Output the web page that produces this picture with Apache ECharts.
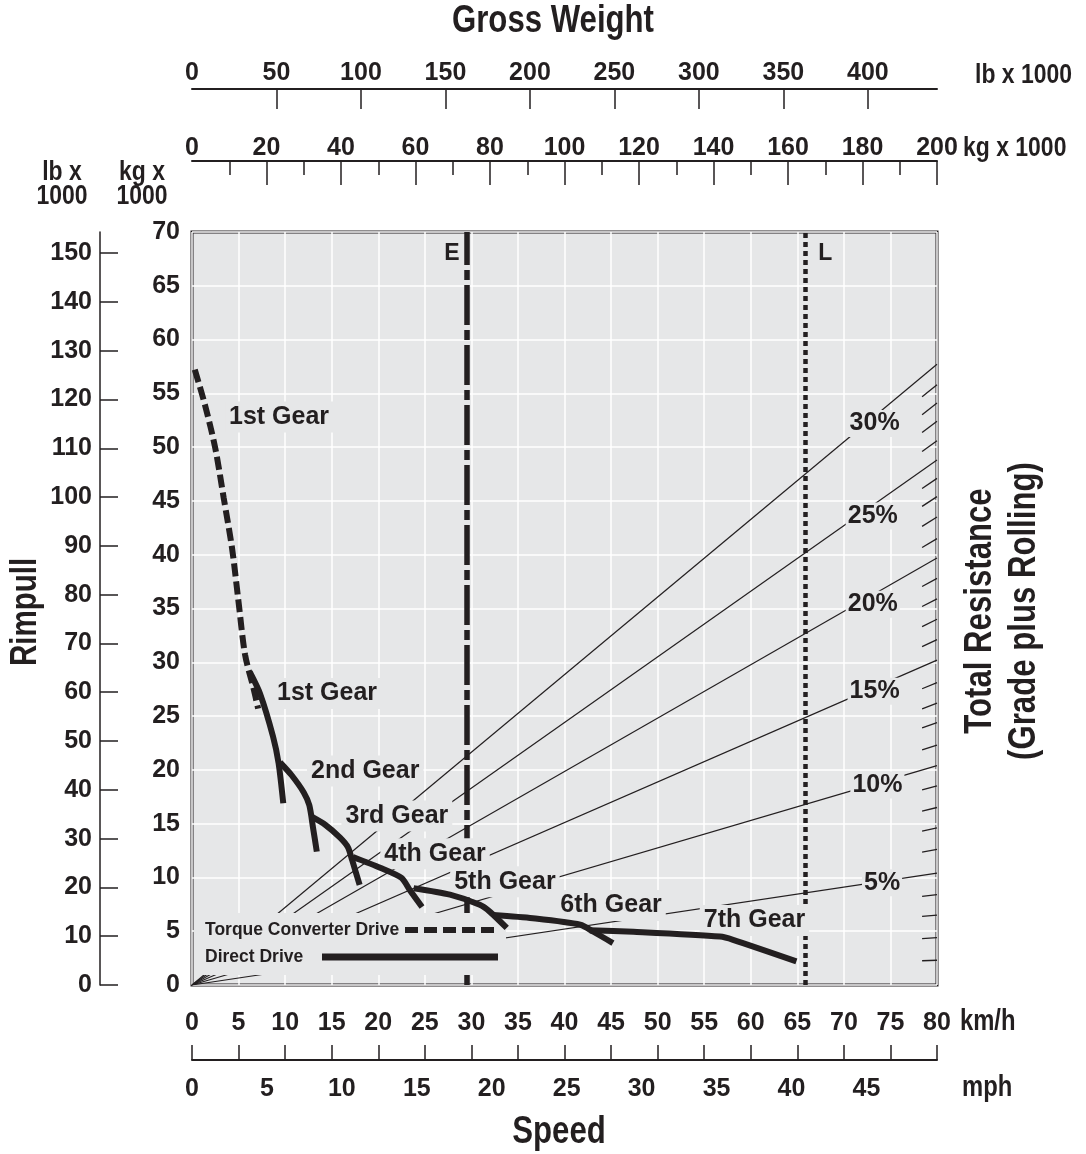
<!DOCTYPE html>
<html>
<head>
<meta charset="utf-8">
<script src="https://cdn.jsdelivr.net/npm/echarts@6/dist/echarts.min.js"></script>
<style>
html,body{margin:0;padding:0;background:#ffffff;}
#chart{width:1086px;height:1154px;}
</style>
</head>
<body>
<div id="chart"></div>
<script>
// ---------- data ----------
const kmhTicks = [0,5,10,15,20,25,30,35,40,45,50,55,60,65,70,75,80];
const mphTicks = [0,5,10,15,20,25,30,35,40,45];
const lbWeightTicks = [0,50,100,150,200,250,300,350,400];
const lbWeightTickMarks = [50,100,150,200,250,300,350,400];
const kgWeightTicks = [0,20,40,60,80,100,120,140,160,180,200];
const kgWeightTickMarks = [20,40,60,80,100,120,140,160,180,200];
const kgWeightMinorTicks = [10,30,50,70,90,110,130,150,170,190];
const rimpullKgTicks = [0,5,10,15,20,25,30,35,40,45,50,55,60,65,70];
const rimpullLbTicks = [0,10,20,30,40,50,60,70,80,90,100,110,120,130,140,150];

// total resistance lines: rimpull (kg x 1000) reached at 200 000 kg gross weight
const gradeLabels = ['5%','10%','15%','20%','25%','30%'];
const gradeRimpullAtMaxWeight = [10.4,20.4,30.2,39.7,48.8,57.7];
// intermediate 1% steps (short marks at right edge)
const minorGradeRimpullAtMaxWeight = [2.3,4.4,6.5,8.4, 12.6,14.6,16.5,18.5, 22.3,24.4,26.2,28.1,
  32.1,34.0,35.9,37.8, 41.5,43.5,45.4,47.1, 50.6,52.4,54.1,55.8];

// rimpull curves [km/h, kg x 1000]
const gear1Converter = [[0.3,57.2],[1.4,53.9],[2.5,49.9],[3.4,45.3],[4.3,40.6],[5.0,35.6],[5.7,30.7],[6.6,27.6],[7.1,25.7]];
const gear1 = [[6.2,29.1],[7.3,27.1],[8.7,23.1],[9.3,20.6],[9.8,16.9]];
const gear2 = [[9.45,20.7],[10.7,19.5],[12.0,17.9],[12.6,16.7],[13.0,14.6],[13.4,12.4]];
const gear3 = [[12.85,15.65],[14.3,14.9],[15.9,13.7],[16.75,12.8],[17.2,11.6],[18.0,9.3]];
const gear4 = [[17.3,11.9],[20.2,10.9],[22.5,9.95],[23.4,8.8],[24.7,7.25]];
const gear5 = [[23.8,9.0],[27.7,8.4],[30.9,7.45],[32.0,6.8],[33.8,5.3]];
const gear6 = [[32.35,6.5],[36.6,6.2],[41.7,5.6],[43.1,4.95],[45.2,3.9]];
const gear7 = [[42.7,5.1],[47.4,4.95],[56.7,4.5],[58.1,4.2],[64.9,2.2]];

const gearLabelNames = ['1st Gear','1st Gear','2nd Gear','3rd Gear','4th Gear','5th Gear','6th Gear','7th Gear'];
const gearLabelKmh = [9.35,14.5,18.6,22.0,26.1,33.6,45.0,60.4];
const gearLabelRimpull = [52.8,27.1,19.9,15.7,12.2,9.6,7.4,6.0];

const gradeLabelKmh = [74.1,73.6,73.3,73.1,73.1,73.3];
const gradeLabelRimpull = [9.5,18.6,27.3,35.4,43.6,52.2];

const speedLimitE = 29.5;
const speedLimitL = 65.9;
const speedLimitNames = ['E','L'];
const speedLimitLabelKmh = [27.9,68.0];
const speedLimitLabelRimpull = [68.0,68.0];

// unit conversions
const MAX_WEIGHT_KG = 200;
const LB_PER_KG = 2.20462;
const KMH_PER_MPH = 1.609344;
const MAX_RIMPULL_KG = 70;

// ---------- style ----------
const INK = '#231f20';
const PLOT_BG = '#e6e7e8';
const SANS = '"Liberation Sans",Arial,Helvetica,sans-serif';
const NARROW_SCALE = 0.82;

const chart = echarts.init(document.getElementById('chart'), null, {renderer:'canvas'});

function hiddenY(gi){ return {type:'value', gridIndex:gi, show:false, min:0, max:1}; }
const plain = {outerBoundsMode:'none', containLabel:false};
const tickFont = {color:INK, fontFamily:SANS, fontWeight:'bold', fontSize:25};

const option = {
  animation:false,
  backgroundColor:'#ffffff',
  grid:[
    Object.assign({left:192, top:232, width:745, height:753, show:true, backgroundColor:PLOT_BG, borderColor:INK, borderWidth:3}, plain), //0 main
    Object.assign({left:192, top:88, width:745, height:1}, plain),   //1 lb weight
    Object.assign({left:192, top:160, width:745, height:1}, plain),  //2 kg weight
    Object.assign({left:192, top:160, width:745, height:1}, plain),  //3 kg minor
    Object.assign({left:192, top:1059, width:745, height:1}, plain), //4 km/h ticks
    Object.assign({left:192, top:1059, width:745, height:1}, plain), //5 mph labels
    Object.assign({left:100, top:232, width:1, height:753}, plain)   //6 lb rimpull
  ],
  xAxis:[
    {type:'value', gridIndex:0, min:0, max:80, interval:5, axisLine:{show:false}, axisTick:{show:false},
     axisLabel:Object.assign({margin:26}, tickFont),
     splitLine:{show:true, lineStyle:{color:'#ffffff', width:1.5}}},
    {type:'value', gridIndex:0, min:0, max:MAX_WEIGHT_KG, show:false},
    {type:'value', gridIndex:1, position:'top', min:0, max:MAX_WEIGHT_KG*LB_PER_KG,
     axisLine:{show:true, lineStyle:{color:INK, width:2}},
     axisTick:{show:true, inside:true, length:20, customValues:lbWeightTickMarks, lineStyle:{color:INK, width:1.5}},
     axisLabel:Object.assign({show:true, customValues:lbWeightTicks, margin:2}, tickFont),
     splitLine:{show:false}},
    {type:'value', gridIndex:2, position:'top', min:0, max:MAX_WEIGHT_KG,
     axisLine:{show:true, lineStyle:{color:INK, width:2}},
     axisTick:{show:true, inside:true, length:24, customValues:kgWeightTickMarks, lineStyle:{color:INK, width:1.5}},
     axisLabel:Object.assign({show:true, customValues:kgWeightTicks, margin:-1}, tickFont),
     splitLine:{show:false}},
    {type:'value', gridIndex:3, position:'top', min:0, max:MAX_WEIGHT_KG,
     axisLine:{show:false},
     axisTick:{show:true, inside:true, length:14, customValues:kgWeightMinorTicks, lineStyle:{color:INK, width:1.5}},
     axisLabel:{show:false}, splitLine:{show:false}},
    {type:'value', gridIndex:4, position:'bottom', min:0, max:80,
     axisLine:{show:true, lineStyle:{color:INK, width:2}},
     axisTick:{show:true, inside:true, length:15, customValues:kmhTicks, lineStyle:{color:INK, width:1.5}},
     axisLabel:{show:false}, splitLine:{show:false}},
    {type:'value', gridIndex:5, position:'bottom', min:0, max:80/KMH_PER_MPH,
     axisLine:{show:false}, axisTick:{show:false},
     axisLabel:Object.assign({show:true, customValues:mphTicks, margin:17}, tickFont),
     splitLine:{show:false}},
    {type:'value', gridIndex:6, min:0, max:1, show:false}
  ],
  yAxis:[
    {type:'value', gridIndex:0, min:0, max:MAX_RIMPULL_KG, interval:5, axisLine:{show:false}, axisTick:{show:false},
     axisLabel:Object.assign({margin:12, padding:[0,0,8,0]}, tickFont),
     splitLine:{show:true, lineStyle:{color:'#ffffff', width:1.5}}},
    hiddenY(1), hiddenY(2), hiddenY(3), hiddenY(4), hiddenY(5),
    {type:'value', gridIndex:6, position:'left', min:0, max:MAX_RIMPULL_KG*LB_PER_KG,
     axisLine:{show:true, lineStyle:{color:INK, width:1.5}},
     axisTick:{show:true, inside:true, length:18, customValues:rimpullLbTicks, lineStyle:{color:INK, width:1.5}},
     axisLabel:Object.assign({show:true, customValues:rimpullLbTicks, margin:8, padding:[0,0,8,0]}, tickFont),
     splitLine:{show:false}}
  ],
  series:[],
  graphic:[]
};

// resistance lines
gradeRimpullAtMaxWeight.forEach(function(v, i){
  option.series.push({type:'line', name:gradeLabels[i], xAxisIndex:1, yAxisIndex:0, data:[[0,0],[MAX_WEIGHT_KG,v]],
    symbol:'none', silent:true, z:2, lineStyle:{color:INK, width:1.2}});
});
// 1% marks at right edge
const markStart = 0.98;
option.series.push({type:'lines', coordinateSystem:'cartesian2d', xAxisIndex:1, yAxisIndex:0, silent:true, z:2,
  lineStyle:{color:INK, width:1.3, opacity:1, curveness:0},
  data: minorGradeRimpullAtMaxWeight.map(function(v){ return {coords:[[MAX_WEIGHT_KG*markStart, v*markStart],[MAX_WEIGHT_KG, v]]}; })
});
// speed limit lines
option.series.push({type:'lines', coordinateSystem:'cartesian2d', xAxisIndex:0, yAxisIndex:0, silent:true, z:3,
  data:[
    {coords:[[speedLimitE,0],[speedLimitE,MAX_RIMPULL_KG]], lineStyle:{color:INK, width:5.5, opacity:1, type:[40,5,10,5], cap:'butt'}},
    {coords:[[speedLimitL,0],[speedLimitL,MAX_RIMPULL_KG]], lineStyle:{color:INK, width:4.5, opacity:1, type:[5,4], cap:'butt'}}
  ]
});
// labels with plot-coloured boxes
const boxLabel = {show:true, position:'inside', color:INK, opacity:1, textBorderWidth:0, fontFamily:SANS, fontWeight:'bold', fontSize:25,
  backgroundColor:PLOT_BG, padding:[3,4], formatter:function(p){ return p.value[2]; }};
function labelSeries(data, label){
  return {type:'scatter', xAxisIndex:0, yAxisIndex:0, silent:true, z:5, symbolSize:0,
    itemStyle:{color:INK, opacity:1}, label:label, emphasis:{disabled:true}, data:data};
}
option.series.push(labelSeries(gearLabelNames.map(function(n,i){ return [gearLabelKmh[i], gearLabelRimpull[i], n]; }), boxLabel));
option.series.push(labelSeries(gradeLabels.map(function(n,i){ return [gradeLabelKmh[i], gradeLabelRimpull[i], n]; }),
  Object.assign({}, boxLabel, {padding:[1,2]})));
option.series.push(labelSeries(speedLimitNames.map(function(n,i){ return [speedLimitLabelKmh[i], speedLimitLabelRimpull[i], n]; }),
  Object.assign({}, boxLabel, {backgroundColor:'transparent', fontSize:23, padding:0})));
// gear curves
option.series.push({type:'line', name:'1st Gear (converter)', xAxisIndex:0, yAxisIndex:0, data:gear1Converter, smooth:0.3,
  symbol:'none', silent:true, z:6, lineStyle:{color:INK, width:6, type:[13,5], cap:'butt'}});
[gear1, gear2, gear3, gear4, gear5, gear6, gear7].forEach(function(g, i){
  option.series.push({type:'line', name:'gear'+(i+1), xAxisIndex:0, yAxisIndex:0, data:g, smooth:0.25,
    symbol:'none', silent:true, z:6, lineStyle:{color:INK, width:6, cap:'butt', join:'round'}});
});

// ---------- texts & legend ----------
function txt(t, x, y, size, align, rot, sx){
  return {type:'text', x:x, y:y, rotation:rot||0, scaleX:(sx===undefined?NARROW_SCALE:sx), z:10,
    style:{text:t, fill:INK, font:'bold '+size+'px '+SANS, align:align||'center', verticalAlign:'middle',
      textAlign:align||'center', textVerticalAlign:'middle', lineHeight:Math.round(size*1.15)}};
}
option.graphic = [
  txt('Gross Weight', 553, 22, 38),
  txt('lb x 1000', 975, 75, 28, 'left'),
  txt('kg x 1000', 963, 148, 28, 'left'),
  txt('lb x', 62, 172, 28),
  txt('1000', 62, 196, 28),
  txt('kg x', 142, 172, 28),
  txt('1000', 142, 196, 28),
  txt('Rimpull', 26, 612, 36, 'center', Math.PI/2),
  txt('Total Resistance\n(Grade plus Rolling)', 1003, 611, 38, 'center', Math.PI/2),
  txt('km/h', 960, 1022, 29, 'left'),
  txt('mph', 962, 1088, 29, 'left'),
  txt('Speed', 559, 1133, 38),
  {type:'rect', z:4, shape:{x:194, y:913, width:312, height:62}, style:{fill:PLOT_BG}},
  txt('Torque Converter Drive', 205, 930, 17.5, 'left', 0, 1),
  txt('Direct Drive', 205, 957, 17.5, 'left', 0, 1),
  {type:'line', z:6, shape:{x1:405, y1:930, x2:500, y2:930}, style:{stroke:INK, lineWidth:6, lineDash:[13,6]}},
  {type:'line', z:6, shape:{x1:322, y1:957, x2:498, y2:957}, style:{stroke:INK, lineWidth:7}}
];

chart.setOption(option);
</script>
</body>
</html>
